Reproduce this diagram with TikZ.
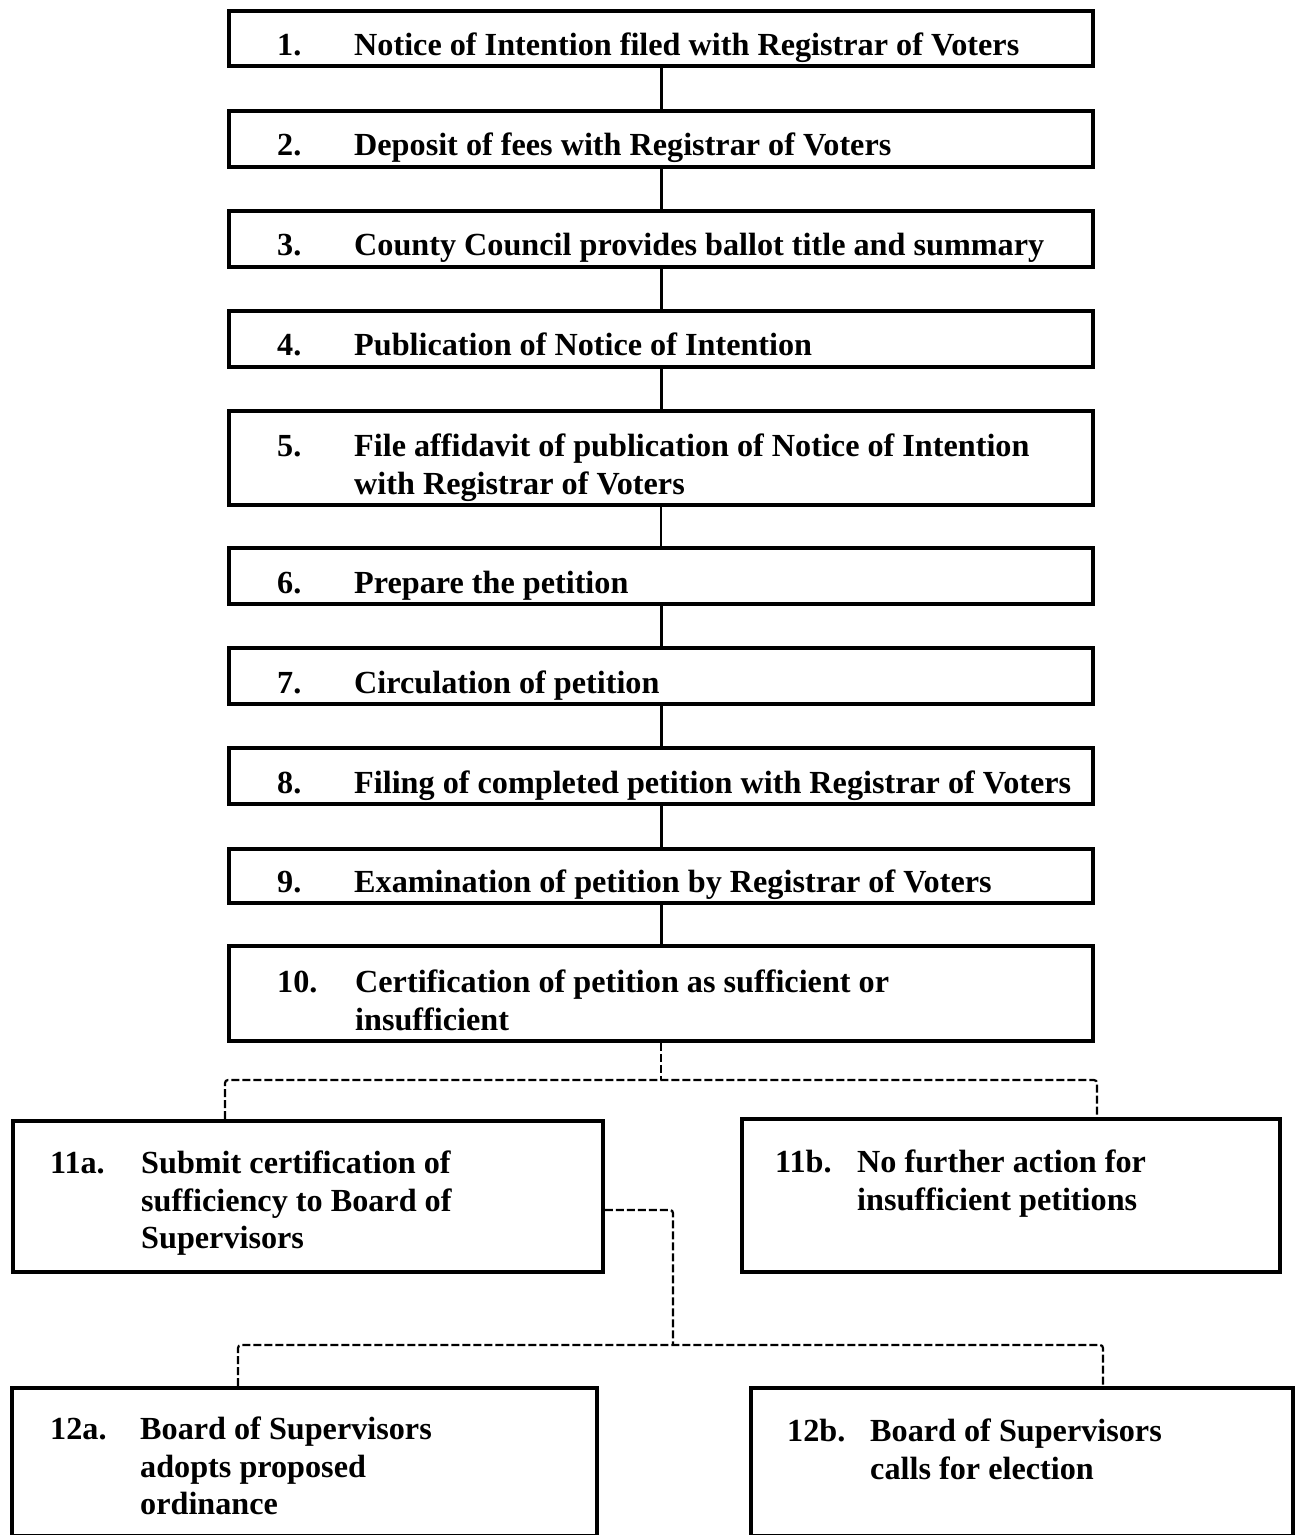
\documentclass[tikz,border=0pt]{standalone}
\usepackage{fontspec}
\setmainfont{Liberation Serif}
\tikzset{
  boxstyle/.style={draw, rectangle, line width=3.8pt, inner sep=0pt},
  lbl/.style={inner sep=0pt, anchor=base west, font=\fontsize{32.2}{38}\selectfont\bfseries},
  solidlink/.style={line width=3pt},
  thinlink/.style={line width=2pt},
  dashlink/.style={line width=2.2pt, dash pattern=on 8pt off 3pt, rounded corners=3pt},
}
\newcommand{\flowbox}[5]{\node[boxstyle, minimum width={#4-#2}, minimum height={#5-#3}] (#1) at ({(#2+#4)/2},{-(#3+#5)/2}) {};}
\begin{document}
\begin{tikzpicture}[x=1pt,y=1pt]
\useasboundingbox (0,0) rectangle (1297,-1535);
\clip (0,0) rectangle (1297,-1535);
\fill[white] (0,0) rectangle (1297,-1535);

% boxes
\flowbox{b1}{229}{11}{1093}{66}
\flowbox{b2}{229}{111}{1093}{167}
\flowbox{b3}{229}{211}{1093}{267}
\flowbox{b4}{229}{311}{1093}{367}
\flowbox{b5}{229}{411}{1093}{505}
\flowbox{b6}{229}{548}{1093}{604}
\flowbox{b7}{229}{648}{1093}{704}
\flowbox{b8}{229}{748}{1093}{804}
\flowbox{b9}{229}{849}{1093}{903}
\flowbox{b10}{229}{946}{1093}{1041}
\flowbox{b11a}{13}{1121}{603}{1272}
\flowbox{b11b}{742}{1119}{1280}{1272}
\flowbox{b12a}{12}{1388}{597}{1536}
\flowbox{b12b}{751}{1388}{1293}{1536}

% texts
\node[lbl] (n1) at (277,-55) {1.};
\node[lbl] (t1) at (354,-55) {Notice of Intention filed with Registrar of Voters};
\node[lbl] (n2) at (277,-155) {2.};
\node[lbl] (t2) at (354,-155) {Deposit of fees with Registrar of Voters};
\node[lbl] (n3) at (277,-255) {3.};
\node[lbl] (t3) at (354,-255) {County Council provides ballot title and summary};
\node[lbl] (n4) at (277,-355) {4.};
\node[lbl] (t4) at (354,-355) {Publication of Notice of Intention};
\node[lbl] (n5) at (277,-456) {5.};
\node[lbl] (t5a) at (354,-456) {File affidavit of publication of Notice of Intention};
\node[lbl] (t5b) at (354,-494) {with Registrar of Voters};
\node[lbl] (n6) at (277,-593) {6.};
\node[lbl] (t6) at (354,-593) {Prepare the petition};
\node[lbl] (n7) at (277,-693) {7.};
\node[lbl] (t7) at (354,-693) {Circulation of petition};
\node[lbl] (n8) at (277,-793) {8.};
\node[lbl] (t8) at (354,-793) {Filing of completed petition with Registrar of Voters};
\node[lbl] (n9) at (277,-892) {9.};
\node[lbl] (t9) at (354,-892) {Examination of petition by Registrar of Voters};
\node[lbl] (n10) at (277,-992) {10.};
\node[lbl] (t10a) at (355,-992) {Certification of petition as sufficient or};
\node[lbl] (t10b) at (355,-1030) {insufficient};
\node[lbl] (n11a) at (50,-1173) {11a.};
\node[lbl] (t11aa) at (141,-1173) {Submit certification of};
\node[lbl] (t11ab) at (141,-1211) {sufficiency to Board of};
\node[lbl] (t11ac) at (141,-1248) {Supervisors};
\node[lbl] (n11b) at (775,-1172) {11b.};
\node[lbl] (t11ba) at (857,-1172) {No further action for};
\node[lbl] (t11bb) at (857,-1210) {insufficient petitions};
\node[lbl] (n12a) at (50,-1439) {12a.};
\node[lbl] (t12aa) at (140,-1439) {Board of Supervisors};
\node[lbl] (t12ab) at (140,-1477) {adopts proposed};
\node[lbl] (t12ac) at (140,-1514) {ordinance};
\node[lbl] (n12b) at (787,-1441) {12b.};
\node[lbl] (t12ba) at (870,-1441) {Board of Supervisors};
\node[lbl] (t12bb) at (870,-1479) {calls for election};

% solid connectors
\draw[solidlink] (b1.south) -- (b2.north);
\draw[solidlink] (b2.south) -- (b3.north);
\draw[solidlink] (b3.south) -- (b4.north);
\draw[solidlink] (b4.south) -- (b5.north);
\draw[thinlink] (b5.south) -- (b6.north);
\draw[solidlink] (b6.south) -- (b7.north);
\draw[solidlink] (b7.south) -- (b8.north);
\draw[solidlink] (b8.south) -- (b9.north);
\draw[solidlink] (b9.south) -- (b10.north);

% dashed connectors
\coordinate (d10) at (661,-1080);
\coordinate (j10l) at (225,-1080);
\coordinate (j10r) at (1097,-1080);
\draw[dashlink] (b10.south) -- (d10);
\draw[dashlink] (b11a.north -| j10l) -- (j10l) -- (j10r) -- (b11b.north -| j10r);

\coordinate (j11) at (673,-1210);
\coordinate (j12) at (673,-1345);
\coordinate (j12l) at (238,-1345);
\coordinate (j12r) at (1103,-1345);
\draw[dashlink] (b11a.east |- j11) -- (j11) -- (j12);
\draw[dashlink] (b12a.north -| j12l) -- (j12l) -- (j12r) -- (b12b.north -| j12r);
\end{tikzpicture}
\end{document}
